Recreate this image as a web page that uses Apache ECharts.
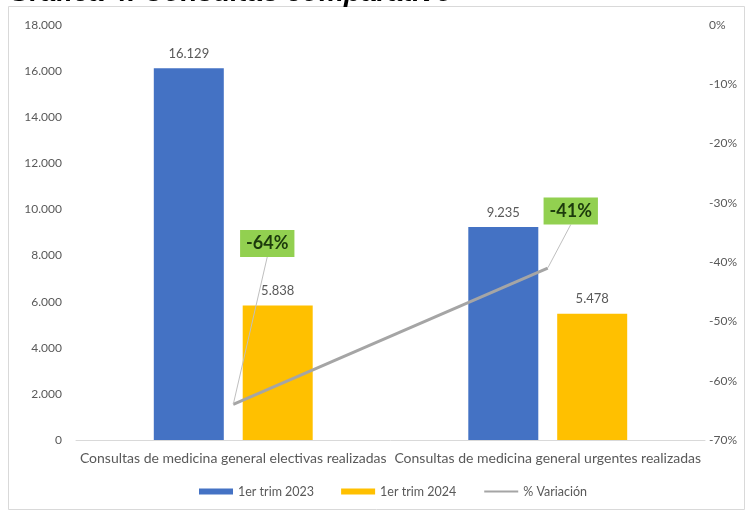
<!DOCTYPE html>
<html>
<head>
<meta charset="utf-8">
<script src="https://cdn.jsdelivr.net/npm/echarts@6/dist/echarts.min.js"></script>
<style>
  html, body { margin: 0; padding: 0; background: #ffffff; }
  #chart { width: 751px; height: 513px; }
</style>
</head>
<body>
<div id="chart"></div>
<script>
// Categories and values
const categories = [
  'Consultas de medicina general electivas realizadas',
  'Consultas de medicina general urgentes realizadas'
];
const trim2023 = [16129, 9235];
const trim2024 = [5838, 5478];
const variacion = [-64, -41];
const seriesNames = ['1er trim 2023', '1er trim 2024', '% Variación'];
const titleText = 'Gráfica 4. Consultas comparativo';

// Thousands separator with a dot
function fmtMiles(v) {
  return String(Math.round(v)).replace(/\B(?=(\d{3})+(?!\d))/g, '.');
}

const FONT = 'Lato';
const GREY = '#595959';

const chart = echarts.init(document.getElementById('chart'), null, { renderer: 'canvas' });

// Offsets of the green variation boxes from their points
const varOffsets = [[34, -161], [23, -57]];

chart.setOption({
  backgroundColor: '#ffffff',
  animation: false,
  textStyle: { fontFamily: FONT },
  graphic: [
    {
      type: 'rect', z: -1,
      shape: { x: 8.5, y: 6.5, width: 736, height: 503 },
      style: { fill: '#ffffff', stroke: '#d9d9d9', lineWidth: 1 }
    },
    {
      type: 'text', left: 8, top: -21, z: 10,
      style: {
        text: titleText, fill: '#000000',
        font: 'italic bold 28px "Liberation Sans"'
      }
    }
  ],
  grid: { left: 76, right: 46, top: 25, bottom: 73, containLabel: false },
  legend: {
    bottom: 10,
    left: 194,
    itemWidth: 34,
    itemHeight: 6,
    itemGap: 27,
    textStyle: { color: GREY, fontSize: 12.5, fontFamily: FONT },
    data: [
      { name: seriesNames[0], icon: 'rect' },
      { name: seriesNames[1], icon: 'rect' },
      { name: seriesNames[2] }
    ]
  },
  xAxis: {
    type: 'category',
    data: categories,
    axisLine: { show: true, lineStyle: { color: '#d9d9d9' } },
    axisTick: { show: false },
    axisLabel: { interval: 0, color: GREY, fontSize: 14, margin: 11, fontFamily: FONT }
  },
  yAxis: [
    {
      type: 'value', min: 0, max: 18000, interval: 2000,
      splitLine: { show: false },
      axisLine: { show: false }, axisTick: { show: false },
      axisLabel: { color: GREY, fontSize: 12, margin: 14, formatter: fmtMiles }
    },
    {
      type: 'value', min: -70, max: 0, interval: 10,
      position: 'right',
      splitLine: { show: false },
      axisLine: { show: false }, axisTick: { show: false },
      axisLabel: { color: GREY, fontSize: 12, margin: 4, formatter: '{value}%' }
    }
  ],
  series: [
    {
      name: seriesNames[0], type: 'bar', data: trim2023,
      barWidth: 70, barGap: '27%',
      itemStyle: { color: '#4472C4' },
      label: { show: true, position: 'top', color: GREY, fontSize: 13, distance: 8, formatter: p => fmtMiles(p.value) }
    },
    {
      name: seriesNames[1], type: 'bar', data: trim2024,
      barWidth: 70,
      itemStyle: { color: '#FFC000' },
      label: { show: true, position: 'top', color: GREY, fontSize: 13, distance: 8, formatter: p => fmtMiles(p.value) }
    },
    {
      name: seriesNames[2], type: 'line', yAxisIndex: 1, data: variacion,
      symbol: 'circle', symbolSize: 1, showSymbol: true, z: 5,
      lineStyle: { color: '#A5A5A5', width: 3 },
      itemStyle: { color: 'rgba(165,165,165,0)' },
      label: {
        show: true, position: 'inside',
        formatter: p => p.value + '%',
        backgroundColor: '#92D050',
        color: '#1c3a0c', fontWeight: 'bold', fontSize: 18,
        padding: [5, 6, 4, 6]
      },
      labelLine: { show: true, lineStyle: { color: '#bfbfbf', width: 1 } },
      labelLayout: function (params) {
        const o = varOffsets[params.dataIndex] || [0, 0];
        return { dx: o[0], dy: o[1] };
      }
    }
  ]
});
</script>
</body>
</html>
